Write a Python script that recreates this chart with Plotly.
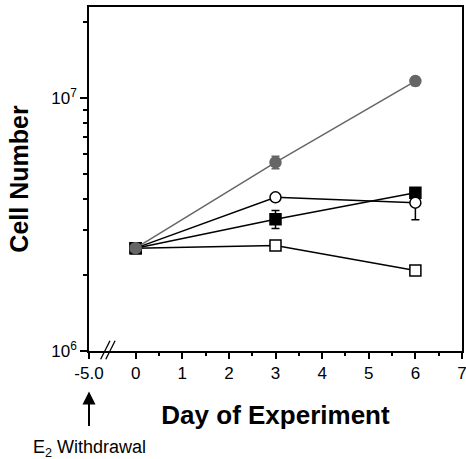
import plotly.graph_objects as go

days = [0, 3, 6]
# series values (cell number)
gray_circle = [2.55e6, 5.57e6, 1.167e7]
gray_circle_err = [0, 0.32e6, 0.45e6]
open_circle = [2.55e6, 4.05e6, 3.86e6]
open_circle_err = [0, 0, 0.56e6]
filled_square = [2.55e6, 3.32e6, 4.22e6]
filled_square_err = [0, 0.27e6, 0.15e6]
open_square = [2.55e6, 2.61e6, 2.08e6]
open_square_err = [0, 0, 0]

x_tick_vals = [-1, 0, 1, 2, 3, 4, 5, 6, 7]
x_tick_text = ["-5.0", "0", "1", "2", "3", "4", "5", "6", "7"]
y_tick_vals = [1e6, 1e7]
y_tick_text = ["10<sup>6</sup>", "10<sup>7</sup>"]

FONT = "Liberation Sans, Arial, Helvetica, sans-serif"
GRAY = "#666666"

fig = go.Figure()

def add_series(y, err, line_color, marker_symbol, fill, edge, err_color):
    fig.add_trace(go.Scatter(
        x=days, y=y, mode="lines+markers",
        line=dict(color=line_color, width=1.5),
        marker=dict(symbol=marker_symbol, size=11, color=fill,
                    line=dict(color=edge, width=1.5)),
        error_y=dict(type="data", array=err, visible=True,
                     color=err_color, thickness=1.5, width=4),
        showlegend=False, cliponaxis=False, hoverinfo="skip",
    ))

add_series(open_square, open_square_err, "black", "square", "white", "black", "black")
add_series(filled_square, filled_square_err, "black", "square", "black", "black", "black")
add_series(open_circle, open_circle_err, "black", "circle", "white", "black", "black")
add_series(gray_circle, gray_circle_err, GRAY, "circle", GRAY, GRAY, GRAY)

fig.update_layout(
    width=466, height=459,
    margin=dict(l=89, r=4, t=7, b=108, autoexpand=False),
    paper_bgcolor="white", plot_bgcolor="white",
    font=dict(family=FONT, color="black", size=17),
    xaxis=dict(
        range=[-1, 7], tickmode="array", tickvals=x_tick_vals, ticktext=x_tick_text,
        showline=True, linecolor="black", linewidth=1.5, mirror=True,
        ticks="outside", ticklen=6, tickwidth=1.5, tickcolor="black",
        showgrid=False, zeroline=False, automargin=False,
        ticklabeloverflow="allow",
        tickfont=dict(size=17),
        minor=dict(tickvals=[0.5, 1.5, 2.5, 3.5, 4.5, 5.5, 6.5], ticks="outside",
                   ticklen=3, tickwidth=1.5, tickcolor="black", showgrid=False),
        title=dict(text="<b>Day of Experiment</b>", font=dict(size=26), standoff=24),
    ),
    yaxis=dict(
        type="log", range=[6, 7.36], tickmode="array", tickvals=y_tick_vals,
        ticktext=y_tick_text,
        showline=True, linecolor="black", linewidth=1.5, mirror=True,
        ticks="outside", ticklen=7, tickwidth=1.5, tickcolor="black",
        showgrid=False, zeroline=False, automargin=False,
        ticklabeloverflow="allow",
        tickfont=dict(size=17),
        minor=dict(tickvals=[2e6, 3e6, 4e6, 5e6, 6e6, 7e6, 8e6, 9e6, 2e7], ticks="outside",
                   ticklen=4, tickwidth=1.5, tickcolor="black", showgrid=False),
        title=dict(text="<b>Cell Number</b>", font=dict(size=25), standoff=16),
    ),
)

# axis break marks "//"
for x0 in [-0.75, -0.64]:
    fig.add_shape(type="line", xref="x", yref="paper",
                  x0=x0, y0=-0.024, x1=x0 + 0.2, y1=0.03,
                  line=dict(color="black", width=1.3))

# E2 withdrawal arrow and label
fig.add_annotation(x=-1, xref="x", y=-0.118, yref="paper", text="",
                   showarrow=True, ax=0, ay=36, arrowhead=2, arrowsize=1.3,
                   arrowwidth=2, arrowcolor="black")
fig.add_annotation(x=-1, xref="x", y=-0.284, yref="paper",
                   text="E<sub>2</sub> Withdrawal", showarrow=False,
                   font=dict(size=18), xanchor="center", yanchor="middle")

fig.write_html("out.html", config={"displayModeBar": False},
               post_script="document.body.style.margin='0';")
